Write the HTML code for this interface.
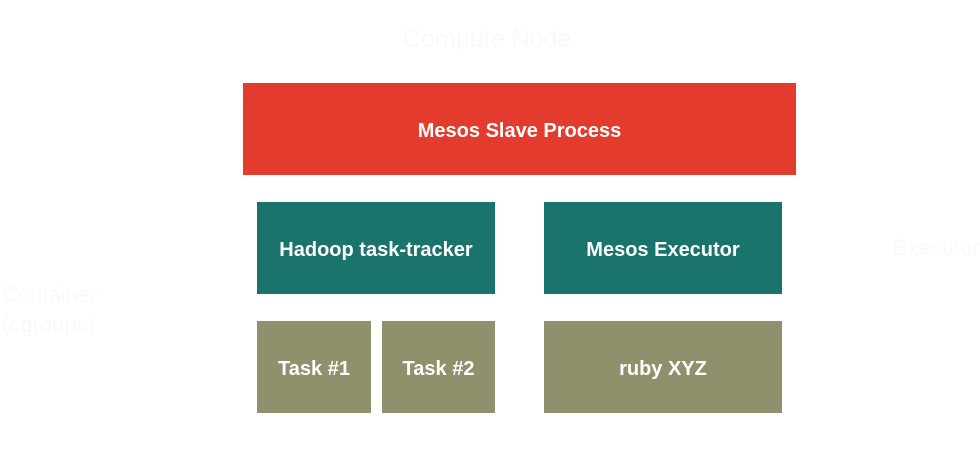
<!DOCTYPE html>
<html><head><style>
body{margin:0;width:980px;height:452px;background:#fff;position:relative;overflow:hidden;font-family:"Liberation Sans",sans-serif}
.b{position:absolute;display:flex;align-items:center;justify-content:center;color:#fff;font-size:20px;font-weight:bold;padding-top:4px;box-sizing:border-box}
.r{background:#e43b2f}.t{background:#1a746c}.o{background:#8f916c}
.f{position:absolute;color:#f6fbf8;font-size:25px;line-height:30px}
</style></head><body>
<div class="f" style="left:403px;top:24px">Compute Node</div>
<div class="f" style="left:2px;top:280px;font-size:22px">Container<br>(cgroups)</div>
<div class="f" style="left:893px;top:233px;font-size:22px">Executor</div>
<div class="b r" style="left:243px;top:83px;width:553px;height:92px">Mesos Slave Process</div>
<div class="b t" style="left:257px;top:202px;width:238px;height:92px">Hadoop task-tracker</div>
<div class="b t" style="left:544px;top:202px;width:238px;height:92px">Mesos Executor</div>
<div class="b o" style="left:257px;top:321px;width:114px;height:92px">Task #1</div>
<div class="b o" style="left:382px;top:321px;width:113px;height:92px">Task #2</div>
<div class="b o" style="left:544px;top:321px;width:238px;height:92px">ruby XYZ</div>
</body></html>
